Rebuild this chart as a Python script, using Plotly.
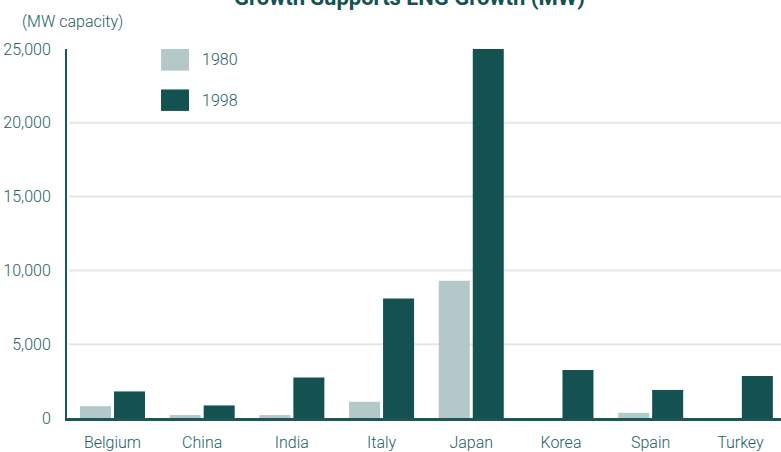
import plotly.graph_objects as go

# Installed generating capacity by country (MW)
countries = ["Belgium", "China", "India", "Italy", "Japan", "Korea", "Spain", "Turkey"]
series_names = ["1980", "1998"]
capacity_1980 = [800, 200, 200, 1100, 9300, 0, 350, 0]
capacity_1998 = [1800, 850, 2750, 8100, 25000, 3250, 1900, 2850]
y_ticks = [0, 5000, 10000, 15000, 20000, 25000]

colors = ["#b4c8ca", "#145251"]
text_color = "#24605f"
font_family = "Roboto, sans-serif"
label_font = dict(family=font_family, size=16, color=text_color, weight=300)

fig = go.Figure()
for name, vals, col in zip(series_names, [capacity_1980, capacity_1998], colors):
    fig.add_trace(go.Bar(
        x=list(range(len(countries))), y=vals, name=name,
        marker=dict(color=col, line=dict(width=0)),
        showlegend=False,
    ))

# horizontal grid lines at the interior tick values
shapes = []
for v in y_ticks[1:-1]:
    shapes.append(dict(type="line", xref="paper", yref="y", x0=0.003, x1=1, y0=v, y1=v,
                       line=dict(color="#dfe8e6", width=2), layer="below"))

# custom legend: large swatches with labels
legend_y = [(1.0, 0.9413), (0.8904, 0.8322)]
annotations = []
for name, col, (y1, y0) in zip(series_names, colors, legend_y):
    shapes.append(dict(type="rect", xref="paper", yref="paper", x0=0.1317, x1=0.1709,
                       y0=y0, y1=y1, fillcolor=col, line=dict(width=0)))
    annotations.append(dict(xref="paper", yref="paper", x=0.1863, y=(y0 + y1) / 2,
                            xanchor="left", yanchor="middle", text=name, showarrow=False,
                            font=label_font))

annotations.append(dict(xref="paper", yref="paper", x=0.48, y=1, yshift=37,
                        xanchor="center", yanchor="bottom", showarrow=False,
                        text="<b>Growth Supports LNG Growth (MW)</b>",
                        font=dict(family=font_family, size=22, color="#145251")))
annotations.append(dict(xref="paper", yref="paper", x=0, y=1, xshift=-47, yshift=28,
                        xanchor="left", yanchor="middle", showarrow=False,
                        text="(MW capacity)", font=label_font))

fig.update_layout(
    width=781, height=452,
    margin=dict(l=67, r=0, t=49, b=33.5, pad=0),
    paper_bgcolor="white", plot_bgcolor="white",
    barmode="group", bargap=0.242, bargroupgap=0.088,
    font=dict(family=font_family, color=text_color, size=16),
    shapes=shapes, annotations=annotations,
    xaxis=dict(
        tickmode="array", tickvals=list(range(len(countries))), ticktext=countries,
        range=[-0.507, 7.453], showgrid=False, zeroline=False,
        showline=True, linecolor="#1d5656", linewidth=3,
        ticks="", ticklabelstandoff=8, automargin=False,
        tickfont=label_font,
    ),
    yaxis=dict(
        range=[0, 25000], tickvals=y_ticks, tickformat=",d",
        showgrid=False, zeroline=False,
        showline=True, linecolor="#1d5656", linewidth=2,
        ticks="", ticklabelstandoff=11, automargin=False,
        tickfont=label_font,
    ),
)

fig.write_html("out.html")
